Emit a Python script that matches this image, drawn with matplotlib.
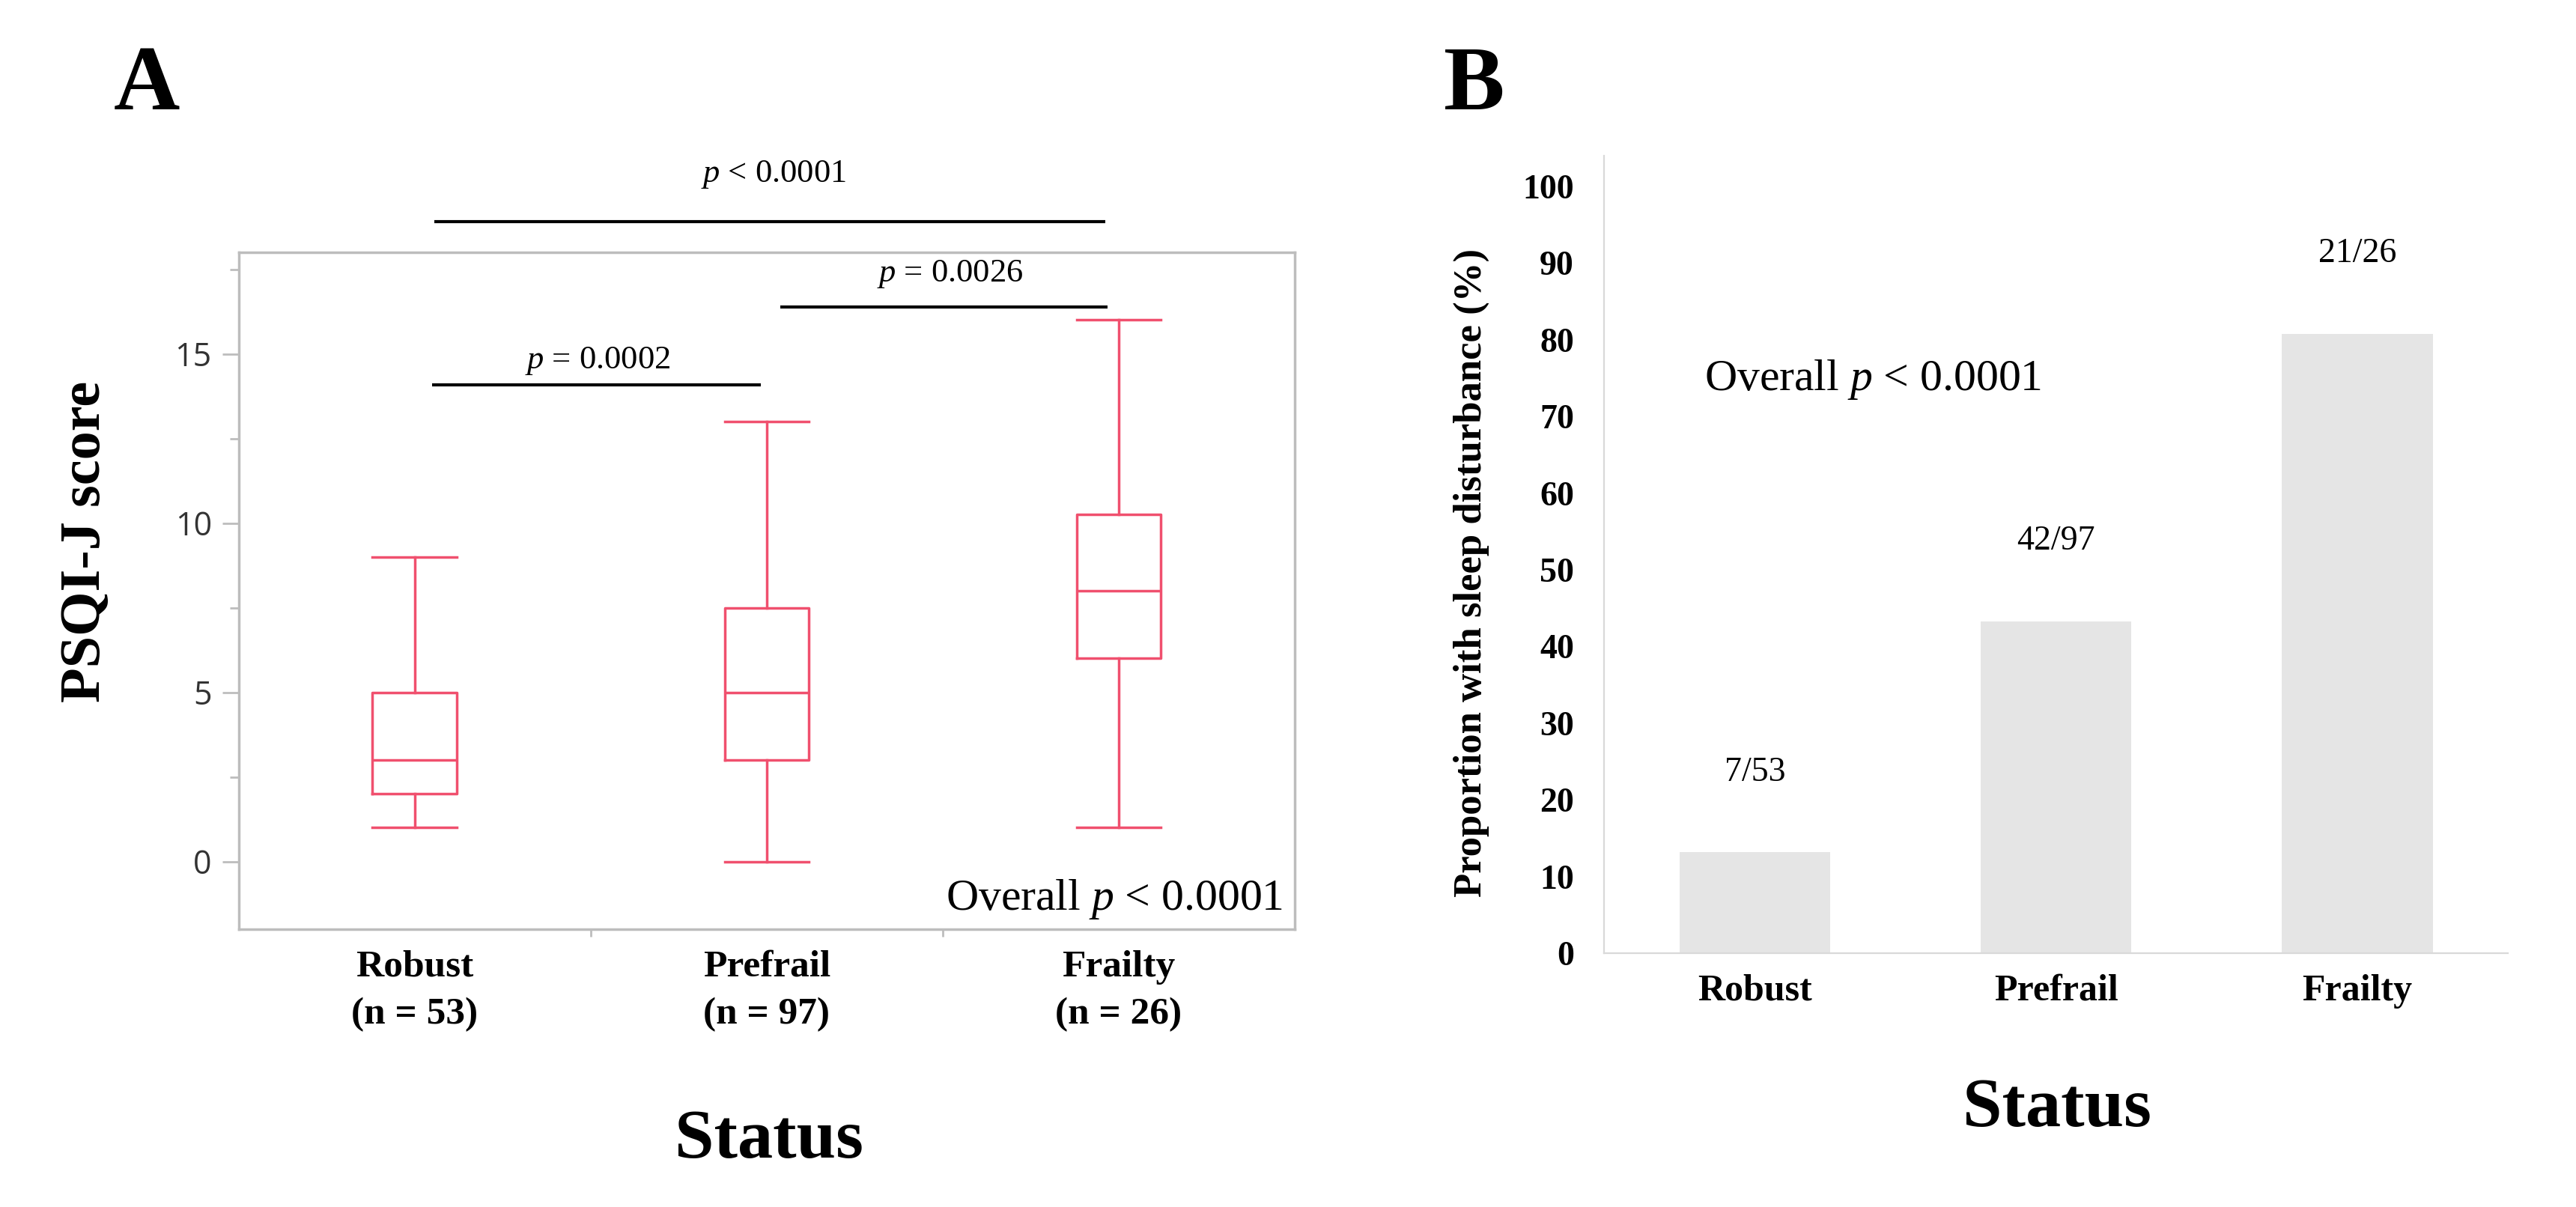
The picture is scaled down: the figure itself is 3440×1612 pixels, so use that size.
import matplotlib
matplotlib.use("Agg")
import matplotlib.pyplot as plt

plt.rcParams['font.family'] = ['Liberation Serif', 'DejaVu Serif']
plt.rcParams['mathtext.fontset'] = 'custom'
plt.rcParams['mathtext.rm'] = 'Liberation Serif'
plt.rcParams['mathtext.it'] = 'Liberation Serif:italic'

# panel A: PSQI-J score box plots
groups = ["Robust", "Prefrail", "Frailty"]
group_n = [53, 97, 26]
whis_lo = [1, 0, 1]
q1 = [2, 3, 6]
median = [3, 5, 8]
q3 = [5, 7.5, 10.25]
whis_hi = [9, 13, 16]

# pairwise comparisons: (left group, right group, label)
pairs = [(0, 1, "$p$ = 0.0002"), (1, 2, "$p$ = 0.0026"), (0, 2, "$p$ < 0.0001")]
pair_y = [14.08, 16.38, 18.9]
pair_text_y = [14.8, 17.35, 20.3]

# panel B: proportion with sleep disturbance
counts = ["7/53", "42/97", "21/26"]
proportion = [13.2, 43.3, 80.8]

red = "#F0506E"
fig = plt.figure(figsize=(34.4, 16.12), dpi=100)

# ---------------- A ----------------
ax = fig.add_axes([0.0927, 0.2301, 0.4099, 0.5608])
stats = []
for i in range(3):
    stats.append(dict(whislo=whis_lo[i], q1=q1[i], med=median[i], q3=q3[i],
                      whishi=whis_hi[i], fliers=[]))
line = dict(color=red, linewidth=2.5)
ax.bxp(stats, positions=range(3), widths=0.24, capwidths=0.24,
       boxprops=line, whiskerprops=line, capprops=line, medianprops=line,
       showfliers=False)
ax.set_xlim(-0.5, 2.5)
ax.set_ylim(-2, 18)
ax.set_yticks([0, 5, 10, 15])
ax.set_yticks([2.5, 7.5, 12.5, 17.5], minor=True)
ax.set_xticks(range(3))
ax.set_xticklabels([f"{g}\n(n = {n})" for g, n in zip(groups, group_n)],
                   fontsize=37, fontweight="bold")
for lab in ax.get_xticklabels():
    lab.set_linespacing(1.5)
ax.set_xticks([0.5, 1.5], minor=True)
for s in ax.spines.values():
    s.set_color("#bdbdbd")
    s.set_linewidth(2.5)
ax.tick_params(axis="y", which="major", length=16, width=2, color="#bdbdbd",
               pad=10, labelsize=31, labelcolor="#333333")
ax.tick_params(axis="y", which="minor", length=9, width=2, color="#bdbdbd")
ax.tick_params(axis="x", which="major", length=0, pad=20)
ax.tick_params(axis="x", which="minor", length=7, width=2, color="#bdbdbd")
for lab in ax.get_yticklabels():
    lab.set_fontfamily("Open Sans")

offs = [(0.05, -0.017), (0.038, -0.032), (0.055, -0.038)]
for (a, b, txt), y, ty, (da, db) in zip(pairs, pair_y, pair_text_y, offs):
    ax.plot([a + da, b + db], [y, y], color="black", linewidth=3,
            clip_on=False, solid_capstyle="butt")
    ax.text((a + b) / 2 + 0.02, ty, txt, fontsize=32, ha="center",
            va="center", clip_on=False)

ax.text(2.466, -1.42, "Overall $p$ < 0.0001", fontsize=43, ha="right",
        va="baseline")

fig.text(115 / 3440, 1 - 723 / 1612, "PSQI-J score", rotation=90,
         fontsize=55, fontweight="bold", ha="center", va="center")
fig.text(1027 / 3440, 1 - 1546 / 1612, "Status", fontsize=68,
         fontweight="bold", ha="center", va="baseline")
fig.text(152 / 3440, 1 - 146 / 1612, "A", fontsize=88, fontweight="bold",
         ha="left", va="baseline")

# ---------------- B ----------------
bx = fig.add_axes([0.6227, 0.2103, 0.3509, 0.6607])
bx.bar(range(3), proportion, width=0.5, color="#e5e5e5")
bx.set_xlim(-0.5, 2.5)
bx.set_ylim(0, 104)
bx.set_yticks(range(0, 101, 10))
bx.set_xticks(range(3))
bx.set_xticklabels(groups, fontsize=36, fontweight="bold")
for lab in bx.get_yticklabels():
    lab.set_fontweight("bold")
bx.tick_params(axis="y", length=0, pad=29, labelsize=33)
bx.tick_params(axis="x", length=0, pad=20)
for side in ["top", "right"]:
    bx.spines[side].set_visible(False)
for side in ["left", "bottom"]:
    bx.spines[side].set_color("#d9d9d9")
    bx.spines[side].set_linewidth(1.6)

for i, (c, v) in enumerate(zip(counts, proportion)):
    bx.text(i, v + 10.4, c, fontsize=33, ha="center", va="center")

bx.text(-0.167, 73.4, "Overall $p$ < 0.0001", fontsize=43, ha="left",
        va="baseline")

fig.text(1965 / 3440, 1 - 765 / 1612, "Proportion with sleep disturbance (%)",
         rotation=90, fontsize=38, fontweight="bold", ha="center", va="center")
fig.text(2747 / 3440, 1 - 1504 / 1612, "Status", fontsize=68,
         fontweight="bold", ha="center", va="baseline")
fig.text(1928 / 3440, 1 - 146 / 1612, "B", fontsize=88, fontweight="bold",
         ha="left", va="baseline")

fig.savefig("out.png", dpi=100, facecolor="white")
